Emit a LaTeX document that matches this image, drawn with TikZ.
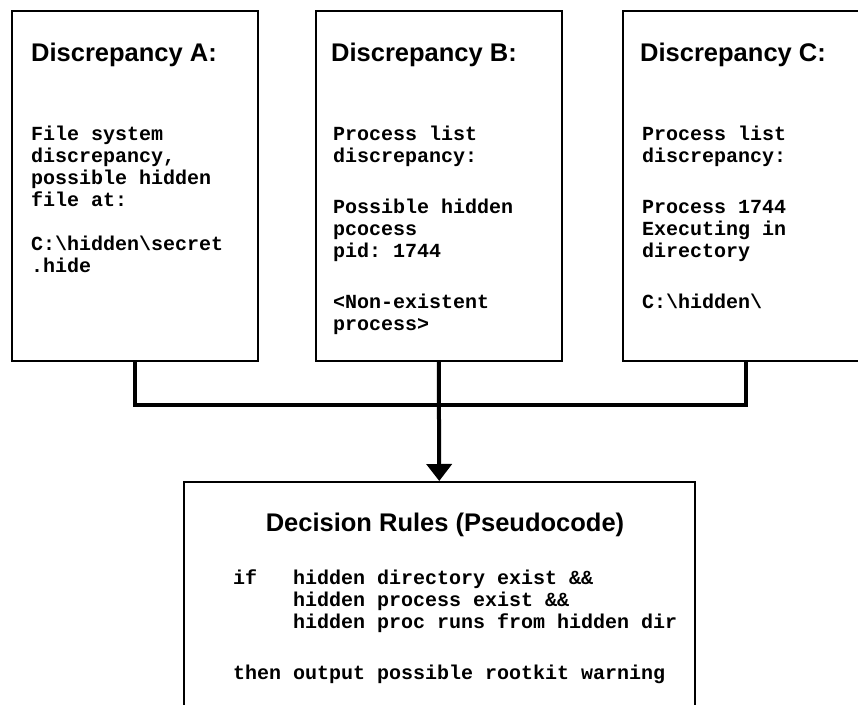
\documentclass[tikz,border=0pt]{standalone}
\usepackage{fontspec}
\setmainfont{Liberation Sans}
\newfontfamily\monof{Liberation Mono}
\usetikzlibrary{arrows.meta}
\frenchspacing
\tikzset{
  panel/.style={draw=black, line width=1.5pt, rectangle, anchor=north west, inner sep=0pt},
  headtxt/.style={anchor=base west, inner sep=0pt, font=\bfseries\fontsize{25.5}{28}\selectfont},
  monotxt/.style={anchor=north west, inner sep=0pt, align=left, font=\monof\bfseries\fontsize{20}{22}\selectfont\frenchspacing},
  conn/.style={draw=black, line width=4pt},
}
\newcommand{\firstln}{\rule{0pt}{16pt}}
\begin{document}
\begin{tikzpicture}[x=1pt,y=-1pt]
\useasboundingbox (0,0) rectangle (858,704);
% boxes
\node[panel, minimum width=246pt, minimum height=350pt] (A) at (11,10) {};
\node[panel, minimum width=246pt, minimum height=350pt] (B) at (315,10) {};
\node[panel, minimum width=246pt, minimum height=350pt] (C) at (622,10) {};
\node[panel, minimum width=511pt, minimum height=260pt] (D) at (183,481) {};
% headings
\node[headtxt] (hA) at (31,61) {Discrepancy A:};
\node[headtxt] (hB) at (331,61) {Discrepancy B:};
\node[headtxt] (hC) at (640,61) {Discrepancy C:};
\node[headtxt, anchor=base] (hD) at (445,531) {Decision Rules (Pseudocode)};
% texts
\node[monotxt] (tA) at (31,124) {\firstln File system\\discrepancy,\\possible hidden\\file at:\\[22pt]C:\textbackslash hidden\textbackslash secret\\.hide};
\node[monotxt] (tB) at (333,124) {\firstln Process list\\discrepancy:\\[29pt]Possible hidden\\pcocess\\pid: 1744\\[29pt]<Non-existent\\process>};
\node[monotxt] (tC) at (642,124) {\firstln Process list\\discrepancy:\\[29pt]Process 1744\\Executing in\\directory\\[29pt]C:\textbackslash hidden\textbackslash};
\node[monotxt] (tD) at (233,568) {\firstln if\ \ \ hidden directory exist \&\&\\
\hphantom{if\ \ \ }hidden process exist \&\&\\
\hphantom{if\ \ \ }hidden proc runs from hidden dir\\[29pt]
then output possible rootkit warning};
% connectors
\coordinate (j) at (438,405);
\draw[conn] (A.south) |- (j) -| (C.south);
\draw[conn, -{Triangle[width=25pt,length=17pt]}] (B.south) -- (D.north);
\end{tikzpicture}
\end{document}
